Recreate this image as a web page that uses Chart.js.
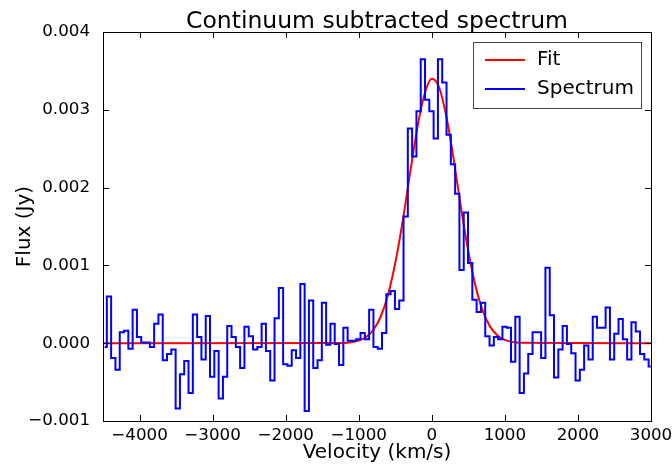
<!DOCTYPE html>
<html>
<head>
<meta charset="utf-8">
<title>Continuum subtracted spectrum</title>
<script src="https://cdn.jsdelivr.net/npm/chart.js@4.4.1/dist/chart.umd.min.js"></script>
<style>
  html, body { margin: 0; padding: 0; background: #fff; }
  #wrap { width: 672px; height: 466px; position: relative; }
</style>
</head>
<body>
<div id="wrap"><canvas id="spectrum"></canvas></div>
<script>
'use strict';

//===== Data =====//
// channel grid (km/s): centre of first channel + channel width
var chanStart = -4477;
var chanWidth = 58.85;

// flux per channel (Jy), left to right
var fluxValues = [
  -0.00005, 0.0006, -0.00019, -0.00034, 0.00014, 0.00016, -0.00007, 0.00043,
  0.00008, 0.00001, 0.00001, -0.00005, 0.00025, 0.00037, -0.00022, -0.00014,
  -0.00008, -0.00084, -0.0004, -0.00023, -0.00064, 0.00037, 0.00008, -0.00021,
  0.00035, -0.00043, -0.0001, -0.00071, -0.00043, 0.00022, 0.00008, -0.00005,
  -0.00032, 0.00021, 0.00009, -0.00008, -0.00005, 0.00025, -0.0001, -0.00048,
  0.00032, 0.00071, -0.00027, -0.00029, -0.00009, -0.00019, 0.00076, -0.00087,
  0.00055, -0.00032, -0.00022, 0.00052, -0.00002, 0.00025, -0.00001, -0.00028,
  0.0002, 0.00003, 0.00003, 0.00005, 0.00013, 0.00005, 0.00043, -0.00005,
  -0.00007, 0.00013, 0.00063, 0.00067, 0.00044, 0.00055, 0.00163, 0.00276,
  0.0024, 0.00298, 0.00365, 0.00313, 0.00298, 0.00263, 0.00365, 0.00335,
  0.00268, 0.0023, 0.00192, 0.00094, 0.00168, 0.00103, 0.00056, 0.0004,
  0.00052, 0.00009, -0.00003, 0.00008, 0.00005, 0.00021, 0.0002, -0.00024,
  0.00034, -0.00064, -0.00039, -0.00014, 0.00014, 0.00014, -0.00019, 0.00097,
  0.00036, -0.00044, -0.00008, 0.00022, -0.00001, -0.00013, -0.00048, -0.00034,
  -0.00003, -0.00021, 0.00034, 0.0002, 0.0002, 0.00046, -0.00021, 0.00012,
  0.00031, 0.00005, -0.00021, 0.00027, 0.00015, -0.00014, -0.00021, -0.0003
];

// gaussian fit, sampled off the red curve
var fitVelocity = [-4500, -1200, -1100, -1000, -900, -800, -700, -600, -500, -400,
  -300, -200, -100, 0, 100, 200, 300, 400, 500, 600, 700, 800, 900, 1000, 1100, 1200, 3000];
var fitFlux = [0, 0.000004, 0.0000125, 0.000033, 0.000078, 0.00017, 0.00034, 0.00062,
  0.00103, 0.00156, 0.00217, 0.00276, 0.0032, 0.0034, 0.00329, 0.00291, 0.00236,
  0.00174, 0.00118, 0.00073, 0.00041, 0.00021, 0.0001, 0.000043, 0.000017, 0.000006, 0];

// axis ticks
var xTicks = [-4000, -3000, -2000, -1000, 0, 1000, 2000, 3000];
var yTicks = [-0.001, 0, 0.001, 0.002, 0.003, 0.004];

//===== build points for the library =====//
var spectrumPoints = fluxValues.map(function (f, i) {
  return { x: chanStart + chanWidth * i, y: f };
});
var fitPoints = fitFlux.map(function (f, i) {
  return { x: fitVelocity[i], y: f };
});

var FONT = 'DejaVu Sans';

// matplotlib style frame, inward ticks and boxed legend
var framePlugin = {
  id: 'mplFrame',
  afterDatasetsDraw: function (chart) {
    var ctx = chart.ctx;
    var a = chart.chartArea;
    var xs = chart.scales.x;
    var ys = chart.scales.y;
    var tl = 6;

    ctx.save();
    ctx.strokeStyle = '#000';
    ctx.lineWidth = 1;
    ctx.beginPath();
    xTicks.forEach(function (v) {
      var px = Math.round(xs.getPixelForValue(v)) + 0.5;
      ctx.moveTo(px, a.bottom); ctx.lineTo(px, a.bottom - tl);
      ctx.moveTo(px, a.top); ctx.lineTo(px, a.top + tl);
    });
    yTicks.forEach(function (v) {
      var py = Math.round(ys.getPixelForValue(v)) + 0.5;
      ctx.moveTo(a.left, py); ctx.lineTo(a.left + tl, py);
      ctx.moveTo(a.right, py); ctx.lineTo(a.right - tl, py);
    });
    ctx.stroke();
    ctx.strokeRect(Math.round(a.left) + 0.5, Math.round(a.top) + 0.5,
      Math.round(a.right - a.left), Math.round(a.bottom - a.top));

    // legend box (top right, inside axes)
    var bw = 168, bh = 66;
    var bx = Math.round(a.right) - 10 - bw;
    var by = Math.round(a.top) + 10;
    ctx.fillStyle = '#fff';
    ctx.fillRect(bx, by, bw, bh);
    ctx.strokeStyle = '#444';
    ctx.strokeRect(bx + 0.5, by + 0.5, bw, bh);

    ctx.font = '20px "' + FONT + '"';
    ctx.textBaseline = 'middle';
    ctx.textAlign = 'left';
    chart.data.datasets.forEach(function (ds, i) {
      var ly = by + 18 + i * 29;
      ctx.strokeStyle = ds.borderColor;
      ctx.lineWidth = 2;
      ctx.beginPath();
      ctx.moveTo(bx + 12, ly);
      ctx.lineTo(bx + 52, ly);
      ctx.stroke();
      ctx.fillStyle = '#000';
      ctx.fillText(ds.label, bx + 64, ly);
    });
    ctx.restore();
  }
};

var ctx = document.getElementById('spectrum').getContext('2d');
var chart = new Chart(ctx, {
  type: 'line',
  data: {
    datasets: [
      {
        label: 'Fit',
        data: fitPoints,
        borderColor: '#ff0000',
        borderWidth: 2,
        pointRadius: 0,
        cubicInterpolationMode: 'monotone',
        fill: false,
        order: 2
      },
      {
        label: 'Spectrum',
        data: spectrumPoints,
        borderColor: '#0000ff',
        borderWidth: 2,
        pointRadius: 0,
        stepped: 'middle',
        fill: false,
        order: 1
      }
    ]
  },
  options: {
    responsive: true,
    maintainAspectRatio: false,
    animation: false,
    layout: { padding: { left: 0, top: 0, bottom: 0, right: 21 } },
    plugins: {
      legend: { display: false },
      tooltip: { enabled: false },
      title: {
        display: true,
        text: 'Continuum subtracted spectrum',
        color: '#000',
        fullSize: false,
        font: { family: FONT, size: 23.5, weight: 'normal', lineHeight: 1 },
        padding: { top: 10, bottom: -1.5 }
      }
    },
    scales: {
      x: {
        type: 'linear',
        min: -4500,
        max: 3000,
        grid: { display: false },
        border: { display: false },
        afterBuildTicks: function (scale) {
          scale.ticks = xTicks.map(function (v) { return { value: v }; });
        },
        afterFit: function (scale) { scale.height = 45; },
        ticks: {
          color: '#000',
          padding: -3.5,
          maxRotation: 0,
          font: { family: FONT, size: 16.7 },
          callback: function (v) { return String(v).replace('-', '\u2212'); }
        },
        title: {
          display: true,
          text: 'Velocity (km/s)',
          color: '#000',
          font: { family: FONT, size: 20 },
          padding: { top: 0, bottom: 1 }
        }
      },
      y: {
        type: 'linear',
        min: -0.001,
        max: 0.004,
        grid: { display: false },
        border: { display: false },
        afterBuildTicks: function (scale) {
          scale.ticks = yTicks.map(function (v) { return { value: v }; });
        },
        afterFit: function (scale) { scale.width = 103; },
        ticks: {
          color: '#000',
          padding: 5,
          font: { family: FONT, size: 16.7 },
          callback: function (v) { return v.toFixed(3).replace('-', '\u2212'); }
        },
        title: {
          display: true,
          text: 'Flux (Jy)',
          color: '#000',
          font: { family: FONT, size: 20 },
          padding: { top: 13, bottom: 0 }
        }
      }
    }
  },
  plugins: [framePlugin]
});
</script>
</body>
</html>
